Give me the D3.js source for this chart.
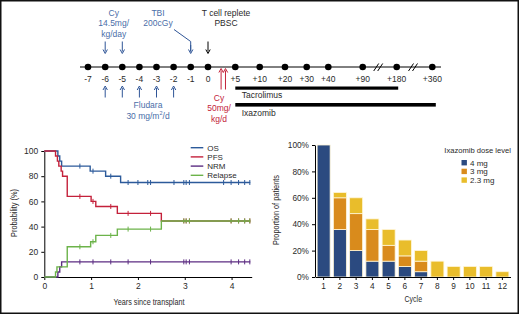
<!DOCTYPE html>
<html>
<head>
<meta charset="utf-8">
<script src="https://cdn.jsdelivr.net/npm/d3@7"></script>
<style>
body { margin: 0; background: #fff; }
svg { display: block; font-family: "Liberation Sans", Arial, sans-serif; }
</style>
</head>
<body>
<script>
// timeline
const dayTicks = [-7, -6, -5, -4, -3, -2, -1, 0, 5, 10, 20, 30, 40, 90, 180, 360];
const dayLabels = ["-7", "-6", "-5", "-4", "-3", "-2", "-1", "0", "+5", "+10", "+20", "+30", "+40", "+90", "+180", "+360"];
const cyDays = [-6, -5];
const fludaraDays = [-6, -5, -4, -3, -2];
const postCyDays = [2.4, 3.2];
const tacroDays = [5, 180];
const ixaDays = [5, 360];

// survival curves: [years, %] step points
const osSteps = [[0, 100], [0.29, 96], [0.33, 92], [0.37, 88], [0.98, 84], [1.31, 80], [1.63, 75]];
const pfsSteps = [[0, 100], [0.24, 96], [0.28, 92], [0.31, 88], [0.36, 84], [0.39, 80], [0.49, 64], [1.0, 60], [1.1, 56], [1.56, 50.5], [2.5, 44.5]];
const nrmSteps = [[0, 0], [0.29, 4], [0.33, 8], [0.37, 12]];
const relSteps = [[0, 0], [0.24, 4], [0.27, 8], [0.49, 24], [0.99, 28], [1.1, 33], [1.56, 38], [2.5, 44.5]];
const osCensor = [0.76, 1.04, 1.42, 1.79, 2.0, 2.21, 2.27, 2.77, 2.98, 3.03, 3.1, 3.83, 3.99, 4.15, 4.28, 4.39];
const pfsCensor = [0.76, 1.04, 1.42, 1.79, 2.27, 2.98, 3.03, 3.1, 3.99, 4.15, 4.28, 4.39];
const nrmCensor = [0.76, 1.04, 1.42, 1.79, 2.27, 2.98, 3.03, 3.1, 3.99, 4.15, 4.28, 4.39];
const relCensor = [0.76, 1.04, 1.42, 1.79, 2.27, 2.98, 3.03, 3.1, 3.99, 4.15, 4.28, 4.39];
const kmEnd = 4.4;
const yearTicks = [0, 1, 2, 3, 4];
const probTicks = [0, 20, 40, 60, 80, 100];

// ixazomib cycles
const cycles = ["1", "2", "3", "4", "5", "6", "7", "8", "9", "10", "11", "12"];
const dose4 = [100, 36, 20, 12, 12, 8, 4, 0, 0, 0, 0, 0];
const dose3 = [0, 24, 28, 24, 12, 8, 8, 0, 0, 0, 0, 0];
const dose23 = [0, 4, 12, 8, 12, 12, 8, 12, 8, 8, 8, 4];
const doseKeys = ["4 mg", "3 mg", "2.3 mg"];
const propTicks = [0, 0.2, 0.4, 0.6, 0.8, 1];

const blue = "#2f5597", textBlue = "#4a6ea8", red = "#c3223a", ink = "#2a2a2a";

const svg = d3.select("body").append("svg").attr("width", 520).attr("height", 316);

svg.append("rect")
  .attr("x", 0.75).attr("y", 0.75).attr("width", 517.5).attr("height", 312.5)
  .attr("fill", "none").attr("stroke", "#111").attr("stroke-width", 1.5);

// ---------- timeline ----------
let dayX = d3.scaleLinear()
  .domain(dayTicks)
  .range([88, 105.2, 122.3, 139.4, 156.5, 173.6, 190.7, 208, 235.3, 259.7, 285, 306.7, 328.3, 362.7, 396.7, 432.3]);

const tl = svg.append("g");
const lineY = 67;

tl.append("line").attr("x1", 80).attr("x2", 441).attr("y1", lineY).attr("y2", lineY)
  .attr("stroke", "#000").attr("stroke-width", 1);

[[90, 180], [180, 360]].forEach(p => {
  let cx = (dayX(p[0]) + dayX(p[1])) / 2 - 1.5;
  [-2, 2].forEach(o => {
    tl.append("line")
      .attr("x1", cx + o - 2.5).attr("y1", lineY + 4)
      .attr("x2", cx + o + 2.5).attr("y2", lineY - 3.5)
      .attr("stroke", "#000").attr("stroke-width", 1);
  });
});

tl.selectAll("circle").data(dayTicks).enter().append("circle")
  .attr("cx", d => dayX(d)).attr("cy", lineY).attr("r", 3.3).attr("fill", "#000");

tl.selectAll("text.day").data(dayTicks).enter().append("text")
  .attr("class", "day")
  .attr("x", d => dayX(d)).attr("y", 82)
  .attr("text-anchor", "middle").attr("font-size", 8.5).attr("fill", ink)
  .text((d, i) => dayLabels[i]);

function arrow(g, x, y1, y2, color) {
  let dir = y2 > y1 ? 1 : -1;
  g.append("line").attr("x1", x).attr("x2", x).attr("y1", y1).attr("y2", y2 - dir * 2)
    .attr("stroke", color).attr("stroke-width", 1);
  g.append("path")
    .attr("d", `M${x - 2.2},${y2 - dir * 4}L${x},${y2}L${x + 2.2},${y2 - dir * 4}`)
    .attr("fill", "none").attr("stroke", color).attr("stroke-width", 1);
}

cyDays.forEach(d => arrow(tl, dayX(d), 41.5, 53.5, blue));
fludaraDays.forEach(d => arrow(tl, dayX(d), 97.5, 86, blue));
postCyDays.forEach(d => arrow(tl, dayX(d), 89.5, 68.5, red));
arrow(tl, dayX(0), 41.5, 53.5, "#000");

// TBI connector
tl.append("path")
  .attr("d", `M174,29.5L${dayX(-1)},41.5L${dayX(-1)},51.5`)
  .attr("fill", "none").attr("stroke", blue).attr("stroke-width", 1);
arrow(tl, dayX(-1), 45, 53.5, blue);

function label(g, x, y, lines, color, anchor) {
  lines.forEach((t, i) => {
    g.append("text").attr("x", x).attr("y", y + i * 10.5)
      .attr("text-anchor", anchor || "middle").attr("font-size", 8.5).attr("fill", color)
      .text(t);
  });
}

label(tl, 113.7, 15.5, ["Cy", "14.5mg/", "kg/day"], textBlue);
label(tl, 158, 15.5, ["TBI", "200cGy"], textBlue);
label(tl, 226, 15.5, ["T cell replete", "PBSC"], ink);
label(tl, 148, 108, ["Fludara"], textBlue);
let fl = tl.append("text").attr("x", 148).attr("y", 118.7).attr("text-anchor", "middle")
  .attr("font-size", 8.5).attr("fill", textBlue);
fl.append("tspan").text("30 mg/m");
fl.append("tspan").attr("font-size", 5.5).attr("dy", -3.5).text("2");
fl.append("tspan").attr("dy", 3.5).text("/d");
label(tl, 219, 100.7, ["Cy", "50mg/", "kg/d"], red);

tl.append("rect").attr("x", dayX(tacroDays[0])).attr("y", 86.5)
  .attr("width", dayX(tacroDays[1]) - dayX(tacroDays[0]) + 1.5).attr("height", 3.2).attr("fill", "#000");
tl.append("rect").attr("x", dayX(ixaDays[0])).attr("y", 103)
  .attr("width", dayX(ixaDays[1]) - dayX(ixaDays[0]) + 3.5).attr("height", 3.6).attr("fill", "#000");
label(tl, 241.7, 98, ["Tacrolimus"], ink, "start");
label(tl, 241.7, 116, ["Ixazomib"], ink, "start");

// ---------- survival ----------
let kmX = d3.scaleLinear().domain([0, 4.43]).range([44.3, 251.7]);
let kmY = d3.scaleLinear().domain([0, 100]).range([277, 151]);

const km = svg.append("g");

km.append("g").attr("transform", "translate(44.3,0)")
  .call(d3.axisLeft(kmY).tickValues(probTicks).tickSize(3).tickSizeOuter(0))
  .call(g => g.attr("font-family", null).selectAll("text").attr("font-size", 8.5).attr("fill", ink));
km.append("g").attr("transform", "translate(0,277)")
  .call(d3.axisBottom(kmX).tickValues(yearTicks).tickFormat(d3.format("d")).tickSize(3).tickSizeOuter(0))
  .call(g => g.attr("font-family", null).selectAll("text").attr("font-size", 8.5).attr("fill", ink));

km.append("text").attr("x", 149).attr("y", 305).attr("text-anchor", "middle")
  .attr("font-size", 9.5).attr("fill", ink)
  .attr("textLength", 71).attr("lengthAdjust", "spacingAndGlyphs")
  .text("Years since transplant");
km.append("text").attr("transform", "translate(17,213) rotate(-90)").attr("text-anchor", "middle")
  .attr("font-size", 9.5).attr("fill", ink)
  .attr("textLength", 48).attr("lengthAdjust", "spacingAndGlyphs")
  .text("Probability (%)");

let kmLine = d3.line().curve(d3.curveStepAfter).x(d => kmX(d[0])).y(d => kmY(d[1]));

let series = [
  {name: "OS", steps: osSteps, censor: osCensor, color: "#2c5a9a"},
  {name: "PFS", steps: pfsSteps, censor: pfsCensor, color: "#c4213b"},
  {name: "NRM", steps: nrmSteps, censor: nrmCensor, color: "#5c2d82"},
  {name: "Relapse", steps: relSteps, censor: relCensor, color: "#6cb34a"}
];

function valueAt(steps, t) {
  let v = steps[0][1];
  steps.forEach(s => { if (s[0] <= t) v = s[1]; });
  return v;
}

series.forEach(s => {
  let pts = s.steps.concat([[kmEnd, s.steps[s.steps.length - 1][1]]]);
  km.append("path").attr("d", kmLine(pts))
    .attr("fill", "none").attr("stroke", s.color).attr("stroke-width", 1.4);
  km.append("g").selectAll("line").data(s.censor).enter().append("line")
    .attr("x1", d => kmX(d)).attr("x2", d => kmX(d))
    .attr("y1", d => kmY(valueAt(s.steps, d)) - 2.5)
    .attr("y2", d => kmY(valueAt(s.steps, d)) + 2.5)
    .attr("stroke", s.color).attr("stroke-width", 1);
});

let kmLegend = km.append("g");
series.forEach((s, i) => {
  let y = 147.7 + i * 9.2;
  kmLegend.append("line").attr("x1", 190.7).attr("x2", 203.3).attr("y1", y).attr("y2", y)
    .attr("stroke", s.color).attr("stroke-width", 1.4);
  kmLegend.append("text").attr("x", 207.3).attr("y", y + 3).attr("font-size", 8)
    .attr("fill", ink).text(s.name);
});

// ---------- ixazomib bars ----------
let barX = d3.scaleBand().domain(cycles).range([315.5, 510.5]).paddingInner(0.2).paddingOuter(0.1);
let barY = d3.scaleLinear().domain([0, 1]).range([277, 145]);
let color = d3.scaleOrdinal().domain(doseKeys).range(["#2b4a80", "#d98b1c", "#e9bd2b"]);

let table = cycles.map((c, i) => ({cycle: c, "4 mg": dose4[i] / 100, "3 mg": dose3[i] / 100, "2.3 mg": dose23[i] / 100}));
let stacked = d3.stack().keys(doseKeys)(table);

const bars = svg.append("g");

bars.selectAll("g.layer").data(stacked).enter().append("g")
  .attr("class", "layer")
  .attr("fill", d => color(d.key))
  .selectAll("rect").data(d => d.filter(p => p[1] - p[0] > 0)).enter().append("rect")
  .attr("x", d => barX(d.data.cycle))
  .attr("y", d => barY(d[1]))
  .attr("width", barX.bandwidth())
  .attr("height", d => barY(d[0]) - barY(d[1]))
  .attr("stroke", "#fff6d8").attr("stroke-width", 0.8);

bars.append("g").attr("transform", "translate(315,0)")
  .call(d3.axisLeft(barY).tickValues(propTicks).tickFormat(d3.format(".0%")).tickSize(3).tickSizeOuter(0))
  .call(g => g.attr("font-family", null).selectAll("text").attr("font-size", 8.3).attr("fill", ink));
bars.append("g").attr("transform", "translate(0,277)")
  .call(d3.axisBottom(barX).tickSize(3).tickSizeOuter(0))
  .call(g => g.attr("font-family", null).selectAll("text").attr("font-size", 8.3).attr("fill", ink));

bars.append("text").attr("x", 413.3).attr("y", 302).attr("text-anchor", "middle")
  .attr("font-size", 9.5).attr("fill", ink)
  .attr("textLength", 17.5).attr("lengthAdjust", "spacingAndGlyphs")
  .text("Cycle");
bars.append("text").attr("transform", "translate(278.5,210) rotate(-90)").attr("text-anchor", "middle")
  .attr("font-size", 9.5).attr("fill", ink)
  .attr("textLength", 70).attr("lengthAdjust", "spacingAndGlyphs")
  .text("Proportion of patients");

let barLegend = bars.append("g");
barLegend.append("text").attr("x", 444.3).attr("y", 153).attr("font-size", 7.6)
  .attr("fill", ink).text("Ixazomib dose level");
doseKeys.forEach((k, i) => {
  let y = 162.7 + i * 8.7;
  barLegend.append("rect").attr("x", 461.5).attr("y", y - 2.7).attr("width", 5.4).attr("height", 5.4)
    .attr("fill", color(k));
  barLegend.append("text").attr("x", 470).attr("y", y + 2.8).attr("font-size", 8)
    .attr("fill", ink).text(k);
});
</script>
</body>
</html>
